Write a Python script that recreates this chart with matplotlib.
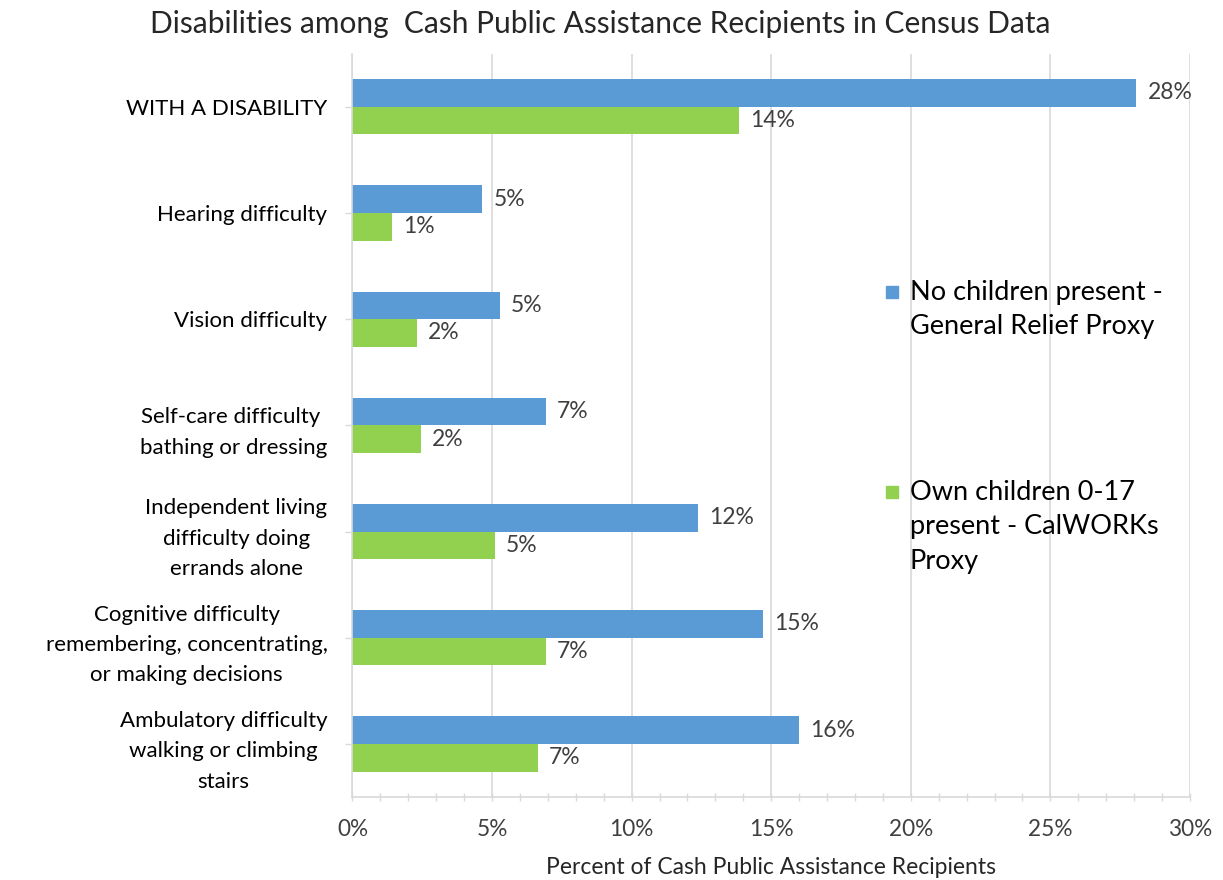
import numpy as np
import matplotlib.pyplot as plt
from matplotlib.patches import Rectangle
from matplotlib.ticker import MultipleLocator, FuncFormatter

plt.rcParams['font.family'] = ['Lato', 'DejaVu Sans']

categories = [
    "WITH A DISABILITY",
    "Hearing difficulty",
    "Vision difficulty",
    "Self-care difficulty \nbathing or dressing",
    "Independent living\ndifficulty doing\nerrands alone",
    "Cognitive difficulty\nremembering, concentrating,\nor making decisions",
    "Ambulatory difficulty\nwalking or climbing\nstairs",
]
no_children = [28.08, 4.65, 5.29, 6.92, 12.38, 14.70, 16.01]
own_children = [13.84, 1.43, 2.32, 2.44, 5.09, 6.92, 6.64]
series_names = [
    "No children present -\nGeneral Relief Proxy",
    "Own children 0-17\npresent - CalWORKs\nProxy",
]
colors = ["#5B9BD5", "#92D050"]

fig = plt.figure(figsize=(12.23, 8.8), dpi=100)
ax = fig.add_axes([0.2882, 0.0943, 0.973 - 0.2882, 0.939 - 0.0943])

y = np.arange(len(categories))
h = 0.26
bars_top = ax.barh(y - h / 2, no_children, height=h, color=colors[0])
bars_bot = ax.barh(y + h / 2, own_children, height=h, color=colors[1])

# value labels at the bar ends
for bars, vals in [(bars_top, no_children), (bars_bot, own_children)]:
    for b, v in zip(bars, vals):
        ax.annotate(f"{v:.0f}%", (v, b.get_y() + b.get_height() / 2),
                    xytext=(8, 0), textcoords="offset points",
                    va="center", ha="left", fontsize=16.5, color="#404040")

ax.set_xlim(0, 30)
ax.set_ylim(len(categories) - 0.5, -0.5)
ax.xaxis.set_major_locator(MultipleLocator(5))
ax.xaxis.set_minor_locator(MultipleLocator(1))
ax.xaxis.set_major_formatter(FuncFormatter(lambda x, _: f"{x:.0f}%"))
ax.set_yticks(y)
ax.set_yticklabels(categories, fontsize=16, color="black",
                   multialignment="center", linespacing=1.65)

ax.grid(axis="x", color="#d9d9d9", linewidth=1.2)
ax.set_axisbelow(True)
for side in ["top", "right"]:
    ax.spines[side].set_visible(False)
for side in ["left", "bottom"]:
    ax.spines[side].set_color("#d9d9d9")
    ax.spines[side].set_linewidth(1.2)

ax.tick_params(axis="x", which="both", direction="inout", length=6, width=1,
               color="#d9d9d9", labelsize=16.3, labelcolor="#404040", pad=13)
ax.tick_params(axis="y", direction="out", length=5, width=1, color="#d9d9d9", pad=13)

ax.set_xlabel("Percent of Cash Public Assistance Recipients", fontsize=16.5,
              color="#262626", labelpad=12)
fig.text(0.491, 0.973, "Disabilities among  Cash Public Assistance Recipients in Census Data",
         ha="center", va="center", fontsize=21.5, color="#262626")

# legend drawn in figure pixels
W, H = 1223, 880
for first_line_y, name, col in [(292, series_names[0], colors[0]), (492, series_names[1], colors[1])]:
    fig.patches.append(Rectangle((886 / W, 1 - (first_line_y + 6) / H), 12 / W, 12 / H,
                                 transform=fig.transFigure, color=col))
    fig.text(910 / W, 1 - (first_line_y - 12) / H, name, ha="left", va="top",
             fontsize=19.5, color="black", linespacing=1.47)

fig.savefig("out.png", dpi=100)
